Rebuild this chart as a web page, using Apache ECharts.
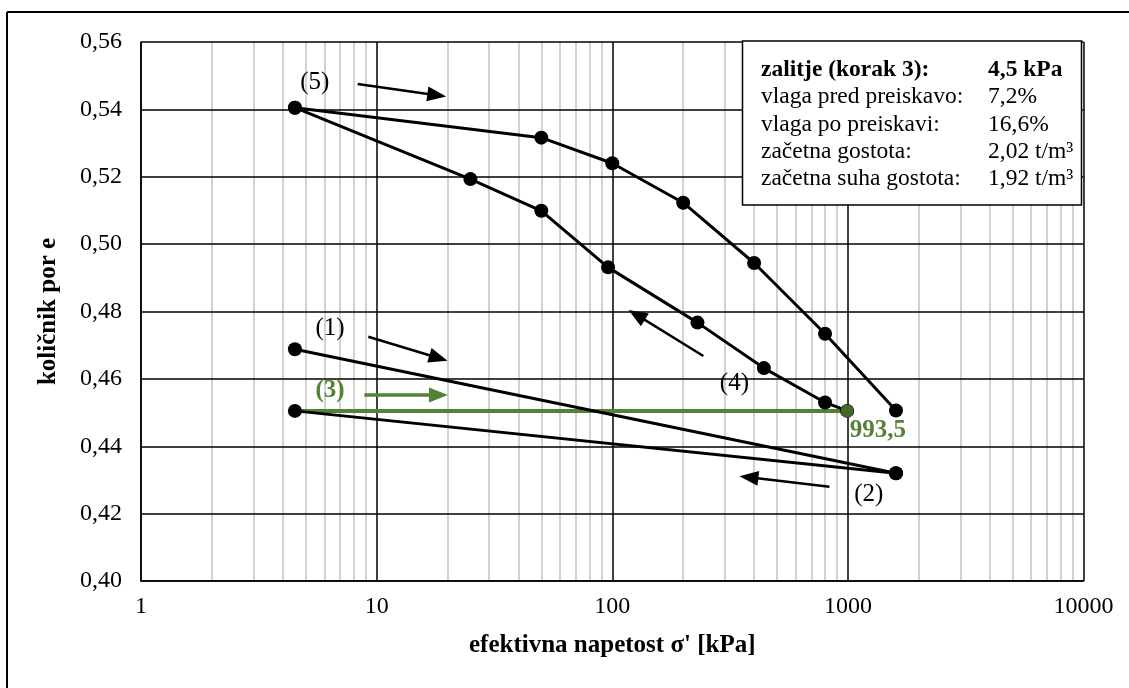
<!DOCTYPE html>
<html>
<head>
<meta charset="utf-8">
<title>Edometrski preizkus</title>
<script src="https://cdn.jsdelivr.net/npm/echarts@6/dist/echarts.min.js"></script>
<style>
  html, body { margin: 0; padding: 0; background: #fff; }
  #chart { width: 1129px; height: 688px; }
</style>
</head>
<body>
<div id="chart"></div>
<script>
// (1) obremenitev
const sigma1 = [4.5, 1600];
const e1 = [0.4688, 0.4320];
// (2) razbremenitev
const sigma2 = [1600, 4.5];
const e2 = [0.4320, 0.4505];
// (3) zalitje in obremenitev do 993,5 kPa
const sigma3 = [4.5, 993.5];
const e3 = [0.4505, 0.4505];
// (4) razbremenitev po zalitju
const sigma4 = [993.5, 800, 440, 230, 96, 50, 25, 4.5];
const e4 = [0.4505, 0.4530, 0.4632, 0.4767, 0.4931, 0.5099, 0.5193, 0.5405];
// (5) ponovna obremenitev
const sigma5 = [4.5, 50, 100, 200, 400, 800, 1600];
const e5 = [0.5405, 0.5316, 0.5240, 0.5123, 0.4944, 0.4734, 0.4506];

// axis ticks
const yTicks = [0.40, 0.42, 0.44, 0.46, 0.48, 0.50, 0.52, 0.54, 0.56];
const xDecades = [1, 10, 100, 1000, 10000];
const minorMultipliers = [2, 3, 4, 5, 6, 7, 8, 9];

// step labels and arrows (data coordinates)
const stepNames = ['(5)', '(1)', '(3)', '(4)', '(2)'];
const stepLabelSigma = [5.46, 6.34, 6.34, 330, 1226];
const stepLabelE = [0.5480, 0.4750, 0.4565, 0.4585, 0.4256];
const arrowFromSigma = [8.31, 9.22, 8.87, 243.6, 834.8];
const arrowFromE = [0.5475, 0.4725, 0.4552, 0.4668, 0.4280];
const arrowToSigma = [18.0, 18.3, 18.3, 127, 380];
const arrowToE = [0.5442, 0.4662, 0.4552, 0.4790, 0.4308];

// sample info box
const infoLabels = ['zalitje (korak 3):', 'vlaga pred preiskavo:', 'vlaga po preiskavi:', 'začetna gostota:', 'začetna suha gostota:'];
const infoValues = ['4,5 kPa', '7,2%', '16,6%', '2,02 t/m³', '1,92 t/m³'];

const FONT = '"Liberation Serif", "Times New Roman", serif';
const BLACK = '#000000';
const GREEN = '#548235';

const pairs = (xs, ys) => xs.map((x, i) => [x, ys[i]]);
const comma = (v, d) => (d === undefined ? String(v) : v.toFixed(d)).replace('.', ',');

const minorLines = [];
xDecades.slice(0, -1).forEach(d => minorMultipliers.forEach(m => minorLines.push({ xAxis: d * m })));

const curveStyle = {
  type: 'line',
  symbol: 'circle',
  symbolSize: 14,
  lineStyle: { color: BLACK, width: 3 },
  itemStyle: { color: BLACK },
  z: 3
};

const chart = echarts.init(document.getElementById('chart'), null, { renderer: 'canvas' });

const infoGraphics = [];
infoLabels.forEach((t, i) => {
  const bold = i === 0;
  infoGraphics.push({
    type: 'text', left: 761, top: 58 + i * 27.2, z: 101,
    style: { text: t, font: (bold ? 'bold ' : '') + '23.5px ' + FONT, fill: BLACK }
  });
  infoGraphics.push({
    type: 'text', left: 988, top: 58 + i * 27.2, z: 101,
    style: { text: infoValues[i], font: (bold ? 'bold ' : '') + '23.5px ' + FONT, fill: BLACK }
  });
});

const baseGraphics = [
  // outer frame (top and left edges)
  { type: 'line', shape: { x1: 7, y1: 12, x2: 1129, y2: 12 }, style: { stroke: BLACK, lineWidth: 2 }, z: 100 },
  { type: 'line', shape: { x1: 7, y1: 12, x2: 7, y2: 688 }, style: { stroke: BLACK, lineWidth: 2 }, z: 100 },
  // info box
  { type: 'rect', shape: { x: 742.5, y: 41, width: 339, height: 164 },
    style: { fill: '#ffffff', stroke: BLACK, lineWidth: 1.5 }, z: 100 },
  ...infoGraphics
];

chart.setOption({
  animation: false,
  backgroundColor: '#ffffff',
  grid: { left: 141, right: 45.5, top: 42, bottom: 107, containLabel: false },
  xAxis: {
    type: 'log',
    logBase: 10,
    min: 1,
    max: 10000,
    name: 'efektivna napetost σ\' [kPa]',
    nameLocation: 'middle',
    nameGap: 52,
    nameTextStyle: { fontFamily: FONT, fontSize: 25, fontWeight: 'bold', color: BLACK },
    axisLine: { lineStyle: { color: BLACK, width: 1.5 } },
    axisTick: { show: false },
    axisLabel: {
      fontFamily: FONT, fontSize: 24, color: BLACK, margin: 14,
      formatter: v => String(Math.round(v))
    },
    splitLine: { show: true, lineStyle: { color: BLACK, width: 1.5 } },
    minorTick: { show: false },
    minorSplitLine: { show: false }
  },
  yAxis: {
    type: 'value',
    min: yTicks[0],
    max: yTicks[yTicks.length - 1],
    interval: 0.02,
    name: 'količnik por e',
    nameLocation: 'middle',
    nameRotate: 90,
    nameGap: 80,
    nameTextStyle: { fontFamily: FONT, fontSize: 25, fontWeight: 'bold', color: BLACK },
    axisLine: { show: true, lineStyle: { color: BLACK, width: 1.5 } },
    axisTick: { show: false },
    axisLabel: {
      fontFamily: FONT, fontSize: 24, color: BLACK, margin: 19,
      formatter: v => comma(v, 2)
    },
    splitLine: { show: true, lineStyle: { color: BLACK, width: 1.5 } }
  },
  graphic: baseGraphics,
  series: [
    {
      name: 'minor grid',
      type: 'line',
      data: [],
      silent: true,
      markLine: {
        silent: true,
        z: -1,
        symbol: 'none',
        label: { show: false },
        lineStyle: { color: '#c3c3c3', width: 1.5, type: 'solid' },
        data: minorLines
      }
    },
    {
      name: 'arrows',
      type: 'line',
      data: [],
      silent: true,
      markLine: {
        silent: true,
        symbol: ['none', 'triangle'],
        symbolSize: [15, 19],
        label: { show: false },
        lineStyle: { color: BLACK, width: 2.5, type: 'solid' },
        itemStyle: { color: BLACK },
        data: arrowFromSigma.map((s, i) => [
          { coord: [s, arrowFromE[i]], lineStyle: i === 2 ? { color: GREEN, width: 3.5 } : undefined,
            itemStyle: i === 2 ? { color: GREEN } : undefined },
          { coord: [arrowToSigma[i], arrowToE[i]] }
        ])
      }
    },
    {
      name: '(3)',
      type: 'line',
      data: pairs(sigma3, e3),
      symbol: 'none',
      lineStyle: { color: GREEN, width: 4 },
      z: 2
    },
    Object.assign({ name: '(1)', data: pairs(sigma1, e1) }, curveStyle),
    Object.assign({ name: '(2)', data: pairs(sigma2, e2) }, curveStyle),
    Object.assign({ name: '(4)', data: pairs(sigma4, e4) }, curveStyle),
    Object.assign({ name: '(5)', data: pairs(sigma5, e5) }, curveStyle),
    {
      name: '(3) konec',
      type: 'scatter',
      data: [[sigma3[sigma3.length - 1], e3[e3.length - 1]]],
      symbol: 'circle',
      symbolSize: 13,
      itemStyle: { color: GREEN },
      z: 5
    }
  ]
});

// text annotations placed through the axes' scales
const textGraphics = stepNames.map((n, i) => {
  const p = chart.convertToPixel({ gridIndex: 0 }, [stepLabelSigma[i], stepLabelE[i]]);
  const green = n === '(3)';
  return {
    type: 'text', x: p[0], y: p[1], z: 102,
    style: {
      text: n, font: (green ? 'bold ' : '') + '25px ' + FONT,
      fill: green ? GREEN : BLACK, align: 'center', verticalAlign: 'middle'
    }
  };
});
const endSigma = sigma3[sigma3.length - 1];
const endPx = chart.convertToPixel({ gridIndex: 0 }, [endSigma, e3[e3.length - 1]]);
textGraphics.push({
  type: 'text', x: endPx[0] + 2.5, y: endPx[1] + 20, z: 102,
  style: {
    text: comma(endSigma), font: 'bold 25px ' + FONT,
    fill: GREEN, align: 'left', verticalAlign: 'middle'
  }
});

chart.setOption({ graphic: baseGraphics.concat(textGraphics) });
</script>
</body>
</html>
